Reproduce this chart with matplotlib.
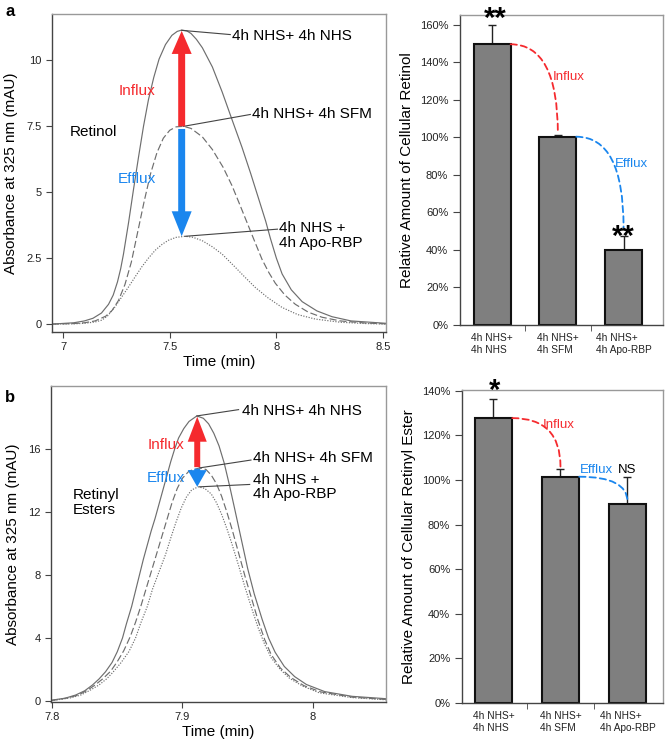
import matplotlib.pyplot as plt

plt.rcParams['font.family'] = ['Liberation Sans', 'DejaVu Sans']

# ---- panel a, retinol chromatograms ----
ret_nhs_t = [6.948, 7.05, 7.10, 7.14, 7.18, 7.213, 7.235, 7.255, 7.27, 7.283, 7.307, 7.330,
             7.354, 7.377, 7.40, 7.425, 7.45, 7.48, 7.51, 7.535, 7.556, 7.58, 7.60, 7.625,
             7.653, 7.70, 7.746, 7.79, 7.839, 7.88, 7.917, 7.95, 7.972, 8.0, 8.027, 8.07,
             8.121, 8.19, 8.261, 8.35, 8.514]
ret_nhs_y = [0.0, 0.05, 0.12, 0.22, 0.42, 0.75, 1.1, 1.6, 2.1, 2.65, 3.85, 5.1,
             6.35, 7.5, 8.5, 9.35, 10.05, 10.6, 10.95, 11.1, 11.15, 11.12, 11.02, 10.8,
             10.48, 9.75, 8.8, 7.8, 6.7, 5.7, 4.75, 3.9, 3.25, 2.5, 1.9, 1.3,
             0.85, 0.5, 0.28, 0.12, 0.03]
ret_sfm_t = [6.948, 7.05, 7.10, 7.15, 7.20, 7.23, 7.26, 7.29, 7.32, 7.35, 7.38, 7.41,
             7.44, 7.47, 7.50, 7.53, 7.565, 7.60, 7.653, 7.70, 7.75, 7.792, 7.83, 7.870,
             7.90, 7.933, 7.965, 7.995, 8.04, 8.089, 8.15, 8.214, 8.30, 8.418, 8.514]
ret_sfm_y = [0.0, 0.02, 0.05, 0.12, 0.3, 0.52, 0.9, 1.5, 2.35, 3.5, 4.65, 5.7,
             6.5, 7.05, 7.35, 7.48, 7.5, 7.42, 7.1, 6.62, 5.95, 5.25, 4.5, 3.7,
             3.1, 2.45, 1.95, 1.55, 1.1, 0.75, 0.45, 0.26, 0.12, 0.04, 0.01]
ret_apo_t = [6.948, 7.05, 7.10, 7.15, 7.182, 7.21, 7.244, 7.275, 7.307, 7.34, 7.369, 7.40,
             7.432, 7.465, 7.494, 7.53, 7.573, 7.61, 7.653, 7.70, 7.746, 7.808, 7.85, 7.901,
             7.96, 8.027, 8.10, 8.183, 8.30, 8.418, 8.514]
ret_apo_y = [0.0, 0.01, 0.03, 0.08, 0.15, 0.32, 0.66, 1.03, 1.41, 1.82, 2.17, 2.5,
             2.8, 3.03, 3.18, 3.29, 3.33, 3.29, 3.16, 2.93, 2.65, 2.15, 1.8, 1.39,
             1.0, 0.63, 0.36, 0.19, 0.07, 0.02, 0.0]

# ---- panel b, retinyl ester chromatograms ----
est_nhs_t = [7.7992, 7.81, 7.818, 7.825, 7.831, 7.836, 7.841, 7.846, 7.850, 7.854, 7.857,
             7.861, 7.864, 7.867, 7.870, 7.873, 7.876, 7.879, 7.882, 7.885, 7.888, 7.891,
             7.894, 7.897, 7.901, 7.905, 7.911, 7.916, 7.920, 7.924, 7.928, 7.932, 7.936,
             7.940, 7.945, 7.950, 7.955, 7.961, 7.966, 7.971, 7.978, 7.986, 7.995, 8.009,
             8.03, 8.056]
est_nhs_y = [0.05, 0.18, 0.38, 0.65, 1.02, 1.4, 1.86, 2.45, 3.13, 4.0, 4.9,
             6.0, 7.0, 8.0, 9.0, 9.9, 10.8, 11.6, 12.5, 13.4, 14.3, 15.2,
             16.0, 16.7, 17.3, 17.75, 18.1, 17.95, 17.6, 17.0, 16.2, 15.1, 13.7,
             12.2, 10.3, 8.4, 6.8, 5.2, 4.0, 3.1, 2.2, 1.55, 1.05, 0.6,
             0.3, 0.15]
est_sfm_t = [7.7992, 7.812, 7.820, 7.827, 7.833, 7.839, 7.845, 7.850, 7.855, 7.860, 7.864,
             7.868, 7.872, 7.876, 7.880, 7.884, 7.888, 7.892, 7.896, 7.900, 7.905, 7.913,
             7.918, 7.922, 7.926, 7.930, 7.934, 7.938, 7.943, 7.948, 7.953, 7.958, 7.963,
             7.968, 7.975, 7.983, 7.993, 8.006, 8.03, 8.056]
est_sfm_y = [0.03, 0.2, 0.38, 0.68, 1.02, 1.42, 1.9, 2.5, 3.2, 4.1, 5.0,
             6.0, 7.1, 8.2, 9.3, 10.4, 11.5, 12.6, 13.5, 14.15, 14.6, 14.8,
             14.7, 14.35, 13.8, 13.0, 12.0, 10.9, 9.4, 7.9, 6.5, 5.1, 3.9,
             2.95, 2.1, 1.5, 0.98, 0.58, 0.25, 0.1]
est_apo_t = [7.7992, 7.814, 7.822, 7.829, 7.836, 7.842, 7.847, 7.853, 7.859, 7.864, 7.868,
             7.873, 7.877, 7.882, 7.887, 7.891, 7.895, 7.899, 7.903, 7.907, 7.912, 7.917,
             7.922, 7.926, 7.930, 7.934, 7.938, 7.943, 7.948, 7.953, 7.958, 7.963, 7.968,
             7.975, 7.982, 7.992, 8.005, 8.03, 8.056]
est_apo_y = [0.02, 0.2, 0.38, 0.68, 1.02, 1.42, 1.86, 2.45, 3.15, 4.0, 4.95,
             6.0, 7.1, 8.2, 9.3, 10.35, 11.35, 12.25, 12.95, 13.4, 13.6, 13.5,
             13.15, 12.6, 11.85, 10.95, 9.95, 8.6, 7.2, 5.9, 4.65, 3.6, 2.75,
             2.0, 1.45, 0.95, 0.52, 0.22, 0.08]

# ---- bar charts ----
groups = ['4h NHS+\n4h NHS', '4h NHS+\n4h SFM', '4h NHS+\n4h Apo-RBP']
retinol_pct = [149.7, 100.4, 40.0]
retinol_err = [10.3, 0.9, 7.5]
ester_pct = [127.8, 101.5, 89.4]
ester_err = [8.5, 3.5, 11.9]

ret_yticks = [0, 2.5, 5, 7.5, 10]
ret_xticks = [7, 7.5, 8, 8.5]
est_yticks = [0, 4, 8, 12, 16]
est_xticks = [7.8, 7.9, 8]

RED = '#f52a2e'
BLUE = '#1a86ee'
LINE = '#6e6e6e'

W, H = 665, 750
fig = plt.figure(figsize=(6.65, 7.5), dpi=100)


def box(l, t, r, b):
    return [l / W, 1 - b / H, (r - l) / W, (b - t) / H]


def style(ax):
    for s in ['left', 'bottom']:
        ax.spines[s].set_color('#444444')
    for s in ['top', 'right']:
        ax.spines[s].set_color('#999999')
    for s in ax.spines.values():
        s.set_linewidth(1.0)
    ax.tick_params(direction='out', length=4, width=0.8, color='#444444',
                   labelsize=8, labelcolor='#222222')


def chrom(ax, curves, xticks, yticks, xlim, ylim):
    (t1, y1), (t2, y2), (t3, y3) = curves
    ax.plot(t1, y1, color=LINE, lw=0.85)
    ax.plot(t2, y2, color=LINE, lw=0.85, dashes=(6, 2.5))
    ax.plot(t3, y3, color=LINE, lw=0.85, dashes=(1, 1.3))
    ax.set_xlim(*xlim)
    ax.set_ylim(*ylim)
    ax.set_xticks(xticks, labels=[f'{v:g}' for v in xticks])
    ax.set_yticks(yticks, labels=[f'{v:g}' for v in yticks])
    ax.set_xlabel('Time (min)', fontsize=11, labelpad=2)
    ax.set_ylabel('Absorbance at 325 nm (mAU)', fontsize=11, labelpad=6)
    style(ax)


def leader(ax, p0, p1, text, tx, ty):
    ax.plot([p0[0], p1[0]], [p0[1], p1[1]], color='#444444', lw=0.8)
    ax.text(tx, ty, text, fontsize=11, ha='left', va='center', linespacing=1.05)


def arrow(ax, tail, tip, color, hl, hw, tw):
    ax.annotate('', xy=tip, xytext=tail,
                arrowprops=dict(arrowstyle=f'simple,head_length={hl},head_width={hw},tail_width={tw}',
                                color=color, mutation_scale=10, shrinkA=0, shrinkB=0, lw=0))


def bars(ax, vals, errs, ymax, yticks, ylabel):
    x = range(len(vals))
    ax.bar(x, vals, width=0.56, color='#7f7f7f', edgecolor='#111111', linewidth=1.5, zorder=2)
    ax.errorbar(x, vals, yerr=[[0] * len(errs), errs], fmt='none', ecolor='#222222',
                elinewidth=1.0, capsize=3, capthick=1.0, zorder=1)
    ax.set_ylim(0, ymax)
    ax.set_yticks(yticks, labels=[f'{v}%' for v in yticks])
    ax.set_xticks(list(x), labels=groups)
    ax.set_xticks([0.5, 1.5], minor=True)
    ax.set_ylabel(ylabel, fontsize=11, labelpad=4)
    style(ax)
    ax.tick_params(axis='x', which='major', length=0, labelsize=7.3, pad=6)
    ax.tick_params(axis='x', which='minor', length=4, direction='out', color='#444444')
    ax.tick_params(axis='y', length=5)
    for lab in ax.get_xticklabels():
        lab.set_linespacing(1.15)
        lab.set_multialignment('left')


def connector(ax, a, b, color):
    ax.annotate('', xy=b, xytext=a,
                arrowprops=dict(arrowstyle='-', connectionstyle='angle3,angleA=0,angleB=90',
                                color=color, lw=1.3, ls=(0, (3.5, 2.2)), shrinkA=0, shrinkB=0))


# ---------------- panel a ----------------
ax1 = fig.add_axes(box(52, 14, 386, 332))
chrom(ax1, [(ret_nhs_t, ret_nhs_y), (ret_sfm_t, ret_sfm_y), (ret_apo_t, ret_apo_y)],
      ret_xticks, ret_yticks, (6.948, 8.514), (-0.30, 11.76))
leader(ax1, (7.556, 11.14), (7.784, 10.98), '4h NHS+ 4h NHS', 7.793, 10.91)
leader(ax1, (7.565, 7.5), (7.878, 7.95), '4h NHS+ 4h SFM', 7.887, 7.95)
leader(ax1, (7.573, 3.33), (8.005, 3.6), '4h NHS +\n4h Apo-RBP', 8.014, 3.37)
arrow(ax1, (7.556, 7.5), (7.556, 11.12), RED, 1.66, 1.44, 0.5)
arrow(ax1, (7.556, 7.4), (7.556, 3.33), BLUE, 1.8, 1.44, 0.5)
ax1.text(7.345, 8.85, 'Influx', color=RED, fontsize=11, ha='center', va='center')
ax1.text(7.345, 5.5, 'Efflux', color=BLUE, fontsize=11, ha='center', va='center')
ax1.text(7.033, 7.27, 'Retinol', fontsize=11, ha='left', va='center')
fig.text(5 / W, 1 - 12 / H, 'a', fontsize=12, fontweight='bold', va='center')

ax2 = fig.add_axes(box(460, 15, 663, 325))
bars(ax2, retinol_pct, retinol_err, 165.3, [0, 20, 40, 60, 80, 100, 120, 140, 160],
     'Relative Amount of Cellular Retinol')
ax2.set_xlim(-0.49, 2.6)
connector(ax2, (0.28, retinol_pct[0]), (1.0, 102), RED)
connector(ax2, (1.28, retinol_pct[1]), (2.0, 52), BLUE)
ax2.text(0.917, 132, 'Influx', color=RED, fontsize=9.5, ha='left', va='center')
ax2.text(1.87, 86, 'Efflux', color=BLUE, fontsize=9.5, ha='left', va='center')
ax2.text(0.05, 163, '**', fontsize=21, ha='center', va='center', fontweight='bold', clip_on=False)
ax2.text(2.0, 47, '**', fontsize=21, ha='center', va='center', fontweight='bold')

# ---------------- panel b ----------------
ax3 = fig.add_axes(box(51, 386, 386, 702))
chrom(ax3, [(est_nhs_t, est_nhs_y), (est_sfm_t, est_sfm_y), (est_apo_t, est_apo_y)],
      est_xticks, est_yticks, (7.7992, 8.056), (-0.06, 20.0))
leader(ax3, (7.911, 18.1), (7.943, 18.5), '4h NHS+ 4h NHS', 7.9456, 18.4)
leader(ax3, (7.913, 14.8), (7.9525, 15.3), '4h NHS+ 4h SFM', 7.954, 15.45)
leader(ax3, (7.913, 13.6), (7.9515, 13.75), '4h NHS +\n4h Apo-RBP', 7.954, 13.6)
arrow(ax3, (7.9113, 14.85), (7.9113, 18.05), RED, 1.8, 1.37, 0.43)
arrow(ax3, (7.9113, 14.75), (7.9113, 13.6), BLUE, 1.2, 1.37, 0.43)
ax3.text(7.887, 16.25, 'Influx', color=RED, fontsize=11, ha='center', va='center')
ax3.text(7.887, 14.16, 'Efflux', color=BLUE, fontsize=11, ha='center', va='center')
ax3.text(7.8155, 12.6, 'Retinyl\nEsters', fontsize=11, ha='left', va='center', linespacing=1.1)
fig.text(5 / W, 1 - 397 / H, 'b', fontsize=12, fontweight='bold', va='center')

ax4 = fig.add_axes(box(462, 390, 663, 703))
bars(ax4, ester_pct, ester_err, 140.4, [0, 20, 40, 60, 80, 100, 120, 140],
     'Relative Amount of Cellular Retinyl Ester')
ax4.set_xlim(-0.47, 2.53)
connector(ax4, (0.28, ester_pct[0]), (1.0, 106), RED)
connector(ax4, (1.28, ester_pct[1]), (2.0, 90.3), BLUE)
ax4.text(0.74, 124.6, 'Influx', color=RED, fontsize=9.5, ha='left', va='center')
ax4.text(1.29, 104.5, 'Efflux', color=BLUE, fontsize=9.5, ha='left', va='center')
ax4.text(2.0, 104.5, 'NS', fontsize=9.5, ha='center', va='center')
ax4.text(0.02, 140, '*', fontsize=21, ha='center', va='center', fontweight='bold', clip_on=False)

fig.savefig('out.png', dpi=100)
